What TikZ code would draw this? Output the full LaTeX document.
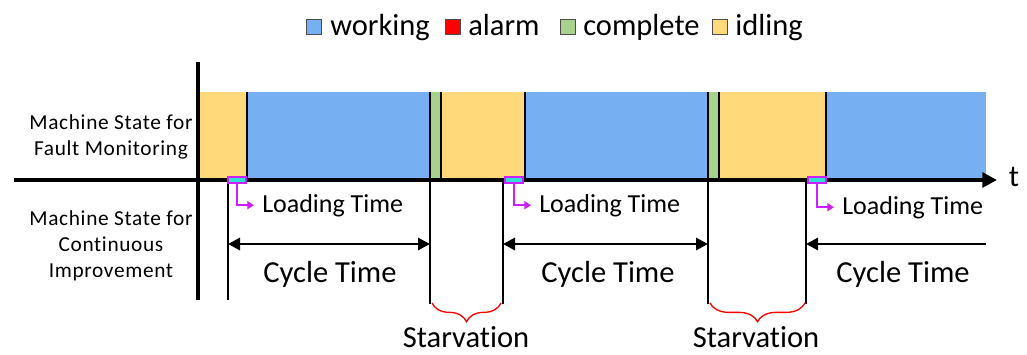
\documentclass[tikz,border=0pt]{standalone}
\usepackage{fontspec}
\setmainfont{Carlito}[Ligatures=NoCommon]
\newfontfamily\sidefont[LetterSpace=3,Ligatures=NoCommon]{Carlito}
\usetikzlibrary{arrows.meta,decorations.pathreplacing}
\definecolor{StateBlue}{HTML}{77B0F2}
\definecolor{StateRed}{HTML}{FF0000}
\definecolor{StateGreen}{HTML}{A9D18E}
\definecolor{StateGold}{HTML}{FFD97A}
\definecolor{LoadCyan}{HTML}{2EE0D2}
\definecolor{LoadMagenta}{HTML}{CC1FFF}

\begin{document}
\begin{tikzpicture}[
    x=0.75pt, y=-0.75pt,
    every node/.style={inner sep=0pt},
    bigtext/.style={font=\fontsize{22.9}{27}\selectfont},
    loadtext/.style={font=\fontsize{19.5}{23}\selectfont, anchor=base west},
    sidetext/.style={font=\sidefont\fontsize{16}{19.5}\selectfont, align=center, anchor=base},
    legendbox/.style={draw=black!70, line width=0.8pt, minimum size=11pt},
    separator/.style={line width=1.5pt},
    cycleline/.style={line width=2pt},
    cyclearrow/.style={line width=2.2pt, {Triangle[length=9pt,width=9pt]}-{Triangle[length=9pt,width=9pt]}},
    loadmark/.style={draw=LoadMagenta, fill=LoadCyan, line width=1.5pt, minimum width=14pt, minimum height=4.5pt},
    loadarrow/.style={draw=LoadMagenta, line width=1.6pt, -{Triangle[length=5pt,width=6pt]}},
    starve/.style={draw=red, line width=1pt, decorate, decoration={brace, mirror, amplitude=14pt}}
]
\useasboundingbox (0,0) rectangle (1027,354);

% legend
\node[legendbox, fill=StateBlue] (kw) at (314,27) {};
\node[bigtext, anchor=base west] (lw) at (330,35) {working};
\node[legendbox, fill=StateRed] (ka) at (453,27) {};
\node[bigtext, anchor=base west] (la) at (468,35) {alarm};
\node[legendbox, fill=StateGreen] (kc) at (568,27) {};
\node[bigtext, anchor=base west] (lc) at (583,35) {complete};
\node[legendbox, fill=StateGold] (ki) at (720,27) {};
\node[bigtext, anchor=base west] (li) at (735,35) {idling};

% machine state bar
\fill[StateGold] (198,92) rectangle (247,179);
\fill[StateBlue] (247,92) rectangle (430,179);
\fill[StateGreen] (430,92) rectangle (441,179);
\fill[StateGold] (441,92) rectangle (525,179);
\fill[StateBlue] (525,92) rectangle (708,179);
\fill[StateGreen] (708,92) rectangle (719,179);
\fill[StateGold] (719,92) rectangle (826,179);
\fill[StateBlue] (826,92) rectangle (986,179);
\foreach \x in {247,430,441,525,708,719,826}
    \draw[separator] (\x,92) -- (\x,179);

% axes
\coordinate (ytop) at (198,62);
\coordinate (ybot) at (198,300);
\coordinate (xstart) at (14,180);
\coordinate (xend) at (997,180);
\draw[line width=3pt] (ytop) -- (ybot);
\draw[line width=3pt, -{Triangle[length=11pt,width=11pt]}] (xstart) -- (xend);
\node[bigtext, anchor=base] (t) at (1014,186) {t};

\node[sidetext] (fm) at (111,155) {Machine State for\\Fault Monitoring};
\node[sidetext] (ci) at (111,277) {Machine State for\\Continuous\\Improvement};

% cycle boundaries
\foreach \n/\x/\b in {1/228/300, 2/430/304, 3/503/304, 4/708/304, 5/806/304} {
    \coordinate (b\n top) at (\x,181);
    \coordinate (b\n bot) at (\x,\b);
    \coordinate (b\n mid) at (\x,244);
    \draw[cycleline] (b\n top) -- (b\n bot);
}
\coordinate (b6mid) at (986,244);
\draw[cyclearrow] (b1mid) -- (b2mid);
\draw[cyclearrow] (b3mid) -- (b4mid);
\draw[line width=2.2pt, -{Triangle[length=9pt,width=9pt]}] (b6mid) -- (b5mid);
\node[bigtext, anchor=base] (ct1) at (330,282) {Cycle Time};
\node[bigtext, anchor=base] (ct2) at (608,282) {Cycle Time};
\node[bigtext, anchor=base] (ct3) at (903,282) {Cycle Time};

% loading time
\node[loadmark] (lm1) at (237,180) {};
\node[loadmark] (lm2) at (514,180) {};
\node[loadmark] (lm3) at (817,180) {};
\node[loadtext] (lt1) at (262,212) {Loading Time};
\node[loadtext] (lt2) at (539,212) {Loading Time};
\node[loadtext] (lt3) at (842,214) {Loading Time};
\draw[loadarrow] (lm1.south) |- ([xshift=-6pt]lt1.west);
\draw[loadarrow] (lm2.south) |- ([xshift=-6pt]lt2.west);
\draw[loadarrow] (lm3.south) |- ([xshift=-6pt]lt3.west);

% starvation
\draw[starve] (432,303) -- (501,303);
\draw[starve] (710,303) -- (805,303);
\node[bigtext, anchor=base] (sv1) at (466,347) {Starvation};
\node[bigtext, anchor=base] (sv2) at (756,347) {Starvation};
\end{tikzpicture}
\end{document}
